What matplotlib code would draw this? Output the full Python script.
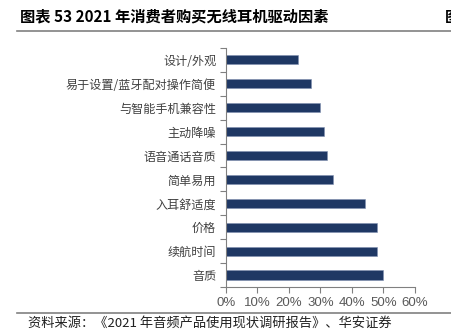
import numpy as np
import matplotlib.pyplot as plt
from matplotlib.lines import Line2D

plt.rcParams['font.family'] = ['Noto Sans CJK SC', 'DejaVu Sans']

factors = ['音质', '续航时间', '价格', '入耳舒适度', '简单易用',
           '语音通话音质', '主动降噪', '与智能手机兼容性',
           '易于设置/蓝牙配对操作简便', '设计/外观']
shares = [50, 48, 48, 44, 34, 32, 31, 30, 27, 23]
xticks = [0, 10, 20, 30, 40, 50, 60]

fig = plt.figure(figsize=(4.52, 3.31), dpi=100)
ax = fig.add_axes([0.5, 0.133, 0.418, 0.722])

y = np.arange(len(factors))
ax.barh(y, shares, height=0.38, color='#1f3864', edgecolor='#8090b0', linewidth=0.4)
ax.set_xlim(0, 60)
ax.set_ylim(-0.5, len(factors) - 0.5)

ax.set_xticks(xticks)
ax.set_xticklabels([f'{v}%' for v in xticks], family=['Liberation Sans'],
                   fontsize=9.5, color='#595959')
ax.set_yticks(y)
ax.set_yticklabels(factors, fontsize=8.7, color='#404040')
ax.set_yticks(np.arange(-0.5, len(factors), 1), minor=True)
ax.tick_params(axis='y', which='major', length=0, pad=7)
ax.tick_params(axis='y', which='minor', length=4, color='#808080', width=0.8)
ax.tick_params(axis='x', length=4, color='#808080', width=0.8, pad=3)

for s in ['top', 'right']:
    ax.spines[s].set_visible(False)
for s in ['left', 'bottom']:
    ax.spines[s].set_color('#808080')
    ax.spines[s].set_linewidth(0.8)

fig.text(0.044, 0.935, '图表 53 2021 年消费者购买无线耳机驱动因素',
         fontsize=11, fontweight='bold', color='#000000')
fig.text(0.985, 0.935, '图', fontsize=11, fontweight='bold', color='#000000',
         clip_on=True)
fig.add_artist(Line2D([0.038, 1.0], [0.906, 0.906], color='#808080', linewidth=1.2,
                      transform=fig.transFigure))
fig.add_artist(Line2D([0.038, 1.0], [0.054, 0.054], color='#808080', linewidth=1.2,
                      transform=fig.transFigure))
fig.text(0.062, 0.012, '资料来源：《2021 年音频产品使用现状调研报告》、华安证券',
         fontsize=9.5, color='#202020')

fig.savefig('out.png', dpi=100)
